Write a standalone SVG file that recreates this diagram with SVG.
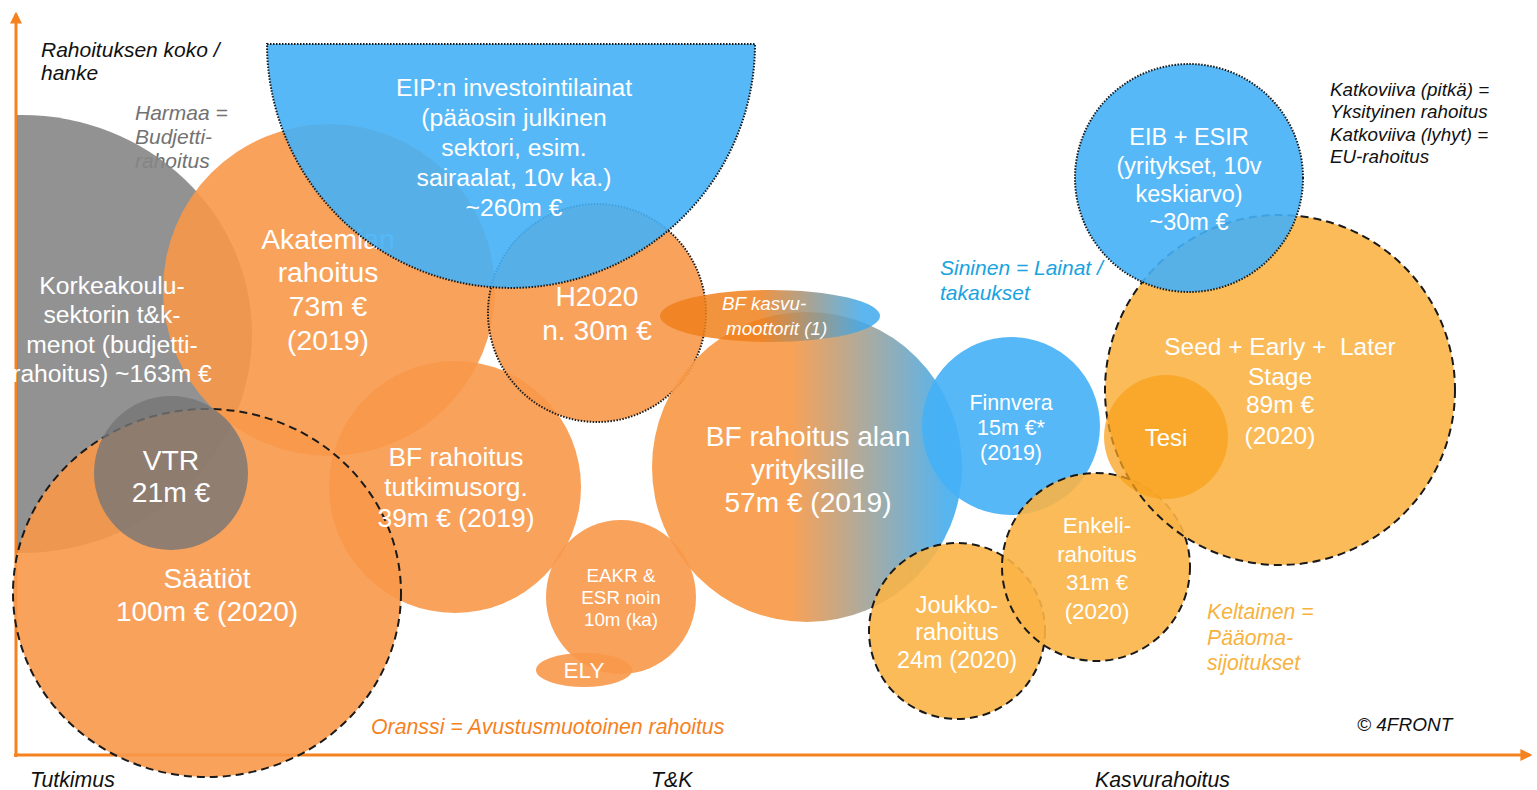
<svg xmlns="http://www.w3.org/2000/svg" width="1537" height="790" viewBox="0 0 1537 790">
<style>
text{font-family:"Liberation Sans",Arial,sans-serif}
.w{fill:#fff;text-anchor:middle}
.i{font-style:italic}
.k{fill:#111}
.or{fill:#F8984A;fill-opacity:.9}
.gr{fill:#868686;fill-opacity:.9}
.bl{fill:#45B0F6;fill-opacity:.9}
.ye{fill:#F9B446;fill-opacity:.9}
.dash{stroke:#1a1a1a;stroke-width:2;stroke-dasharray:8 5}
.dot{stroke:#1a1a1a;stroke-width:2;stroke-dasharray:1.5 1.5}
.axis{stroke:#F5821F;stroke-width:3;fill:none}
</style>
<defs>
<linearGradient id="gAlan" x1="0" y1="0" x2="1" y2="0">
<stop offset="0" stop-color="#F89A48"/>
<stop offset="0.45" stop-color="#F89A48"/>
<stop offset="0.95" stop-color="#48AEEE"/>
<stop offset="1" stop-color="#48AEEE"/>
</linearGradient>
<linearGradient id="gKasvu" x1="0" y1="0" x2="1" y2="0">
<stop offset="0" stop-color="#F0801C"/>
<stop offset="0.45" stop-color="#F0801C"/>
<stop offset="0.92" stop-color="#3FA9EC"/>
<stop offset="1" stop-color="#3FA9EC"/>
</linearGradient>
<clipPath id="clipAxis"><rect x="17" y="0" width="1520" height="790"/></clipPath>
<marker id="arr" viewBox="0 0 10 10" refX="8" refY="5" markerWidth="4" markerHeight="4" orient="auto"><path d="M0,0 L10,5 L0,10 z" fill="#F5821F"/></marker>
</defs>

<g id="connectors">
<line class="axis" x1="16" y1="757" x2="16" y2="14" marker-end="url(#arr)"/>
<line class="axis" x1="14" y1="755" x2="1530" y2="755" marker-end="url(#arr)"/>
</g>

<g id="legend-harmaa"><text class="i" font-size="21" fill="#727272"><tspan x="135" y="120">Harmaa =</tspan><tspan x="135" y="144">Budjetti-</tspan><tspan x="135" y="168">rahoitus</tspan></text></g>

<g id="korkeakoulu"><ellipse class="gr" cx="22" cy="334" rx="230" ry="219" clip-path="url(#clipAxis)"/></g>
<g id="akatemia"><circle class="or" cx="329" cy="290" r="166"/></g>
<g id="bf-tutkimusorg"><circle class="or" cx="455" cy="487" r="126"/></g>
<g id="saatiot"><ellipse class="or dash" cx="207" cy="593" rx="194" ry="184"/></g>
<g id="vtr"><circle cx="171" cy="473" r="77" fill="#767676" fill-opacity=".8"/></g>
<g id="h2020"><circle class="or dot" cx="597" cy="313" r="109"/></g>

<g id="text-left">
<text class="w" font-size="24.7"><tspan x="112" y="294">Korkeakoulu-</tspan><tspan x="112" y="323">sektorin t&amp;k-</tspan><tspan x="112" y="353">menot (budjetti-</tspan><tspan x="112" y="382">rahoitus) ~163m €</tspan></text>
<text class="w" font-size="28.3"><tspan x="328" y="249">Akatemian</tspan><tspan x="328" y="282">rahoitus</tspan><tspan x="328" y="316">73m €</tspan><tspan x="328" y="350">(2019)</tspan></text>
<text class="w" font-size="28.2"><tspan x="597" y="306">H2020</tspan><tspan x="597" y="340">n. 30m €</tspan></text>
</g>

<g id="eip"><path class="bl dot" d="M267,44 H755 A244,244 0 0 1 267,44 Z"/>
<text class="w" font-size="24.7"><tspan x="514" y="96">EIP:n investointilainat</tspan><tspan x="514" y="126">(pääosin julkinen</tspan><tspan x="514" y="156">sektori, esim.</tspan><tspan x="514" y="186">sairaalat, 10v ka.)</tspan><tspan x="514" y="216">~260m €</tspan></text></g>

<g id="bf-alan"><circle cx="807" cy="467" r="155" fill="url(#gAlan)" fill-opacity=".92"/>
<text class="w" font-size="28.1"><tspan x="808" y="446">BF rahoitus alan</tspan><tspan x="808" y="479">yrityksille</tspan><tspan x="808" y="512">57m € (2019)</tspan></text></g>

<g id="bf-kasvu"><ellipse cx="770" cy="316" rx="110" ry="26" fill="url(#gKasvu)" fill-opacity=".85"/>
<text class="i" font-size="18.8" fill="#fff"><tspan x="722" y="310">BF kasvu-</tspan><tspan x="726" y="335">moottorit (1)</tspan></text></g>

<g id="bf-tutk-text"><text class="w" font-size="26.4"><tspan x="456" y="466">BF rahoitus</tspan><tspan x="456" y="496">tutkimusorg.</tspan><tspan x="456" y="527">39m € (2019)</tspan></text></g>
<g id="vtr-text"><text class="w" font-size="28.3"><tspan x="171" y="470">VTR</tspan><tspan x="171" y="502">21m €</tspan></text></g>
<g id="saatiot-text"><text class="w" font-size="28"><tspan x="207" y="588">Säätiöt</tspan><tspan x="207" y="621">100m € (2020)</tspan></text></g>

<g id="eakr"><ellipse class="or" cx="621" cy="597" rx="75" ry="77"/>
<text class="w" font-size="18.8"><tspan x="621" y="582">EAKR &amp;</tspan><tspan x="621" y="604">ESR noin</tspan><tspan x="621" y="626">10m (ka)</tspan></text></g>
<g id="ely"><ellipse class="or" cx="584" cy="670" rx="48" ry="17"/><text class="w" x="584" y="678" font-size="22.5">ELY</text></g>

<g id="finnvera"><circle class="bl" cx="1011" cy="426" r="89"/>
<text class="w" font-size="21.4"><tspan x="1011" y="410">Finnvera</tspan><tspan x="1011" y="435">15m €*</tspan><tspan x="1011" y="460">(2019)</tspan></text></g>

<g id="joukko"><circle class="ye dash" cx="957" cy="631" r="88"/></g>
<g id="enkeli"><circle class="ye dash" cx="1096" cy="567" r="94"/></g>
<g id="seed"><circle class="ye dash" cx="1280" cy="390" r="175"/></g>
<g id="tesi"><circle cx="1166" cy="437" r="62" fill="#F8A21E" fill-opacity=".75"/></g>
<g id="eib"><circle class="bl dot" cx="1189" cy="178" r="114"/>
<text class="w" font-size="23.5"><tspan x="1189" y="145">EIB + ESIR</tspan><tspan x="1189" y="174">(yritykset, 10v</tspan><tspan x="1189" y="202">keskiarvo)</tspan><tspan x="1189" y="230">~30m €</tspan></text></g>

<g id="right-texts">
<text class="w" font-size="24.5" xml:space="preserve"><tspan x="1280" y="355">Seed + Early +  Later</tspan><tspan x="1280" y="385">Stage</tspan><tspan x="1280" y="413">89m €</tspan><tspan x="1280" y="444">(2020)</tspan></text>
<text class="w" x="1166" y="446" font-size="24">Tesi</text>
<text class="w" font-size="22.4"><tspan x="1097" y="533">Enkeli-</tspan><tspan x="1097" y="562">rahoitus</tspan><tspan x="1097" y="590">31m €</tspan><tspan x="1097" y="619">(2020)</tspan></text>
<text class="w" font-size="23.5"><tspan x="957" y="613">Joukko-</tspan><tspan x="957" y="640">rahoitus</tspan><tspan x="957" y="668">24m (2020)</tspan></text>
</g>

<g id="legends">
<text class="i k" font-size="21"><tspan x="41" y="57">Rahoituksen koko /</tspan><tspan x="41" y="80">hanke</tspan></text>
<text class="i" font-size="21" fill="#1AA3E0"><tspan x="940" y="275">Sininen = Lainat /</tspan><tspan x="940" y="300">takaukset</tspan></text>
<text class="i k" font-size="18.8"><tspan x="1330" y="96">Katkoviiva (pitkä) =</tspan><tspan x="1330" y="118">Yksityinen rahoitus</tspan><tspan x="1330" y="141">Katkoviiva (lyhyt) =</tspan><tspan x="1330" y="163">EU-rahoitus</tspan></text>
<text class="i" font-size="21.2" fill="#F7B240"><tspan x="1207" y="619">Keltainen =</tspan><tspan x="1207" y="645">Pääoma-</tspan><tspan x="1207" y="670">sijoitukset</tspan></text>
<text class="i" x="371" y="734" font-size="21.3" fill="#F5821F">Oranssi = Avustusmuotoinen rahoitus</text>
<text class="i k" x="1357" y="731" font-size="19">© 4FRONT</text>
<text class="i k" x="30" y="787" font-size="21.3">Tutkimus</text>
<text class="i k" x="651" y="787" font-size="21.3">T&amp;K</text>
<text class="i k" x="1095" y="787" font-size="21.3">Kasvurahoitus</text>
</g>
</svg>
